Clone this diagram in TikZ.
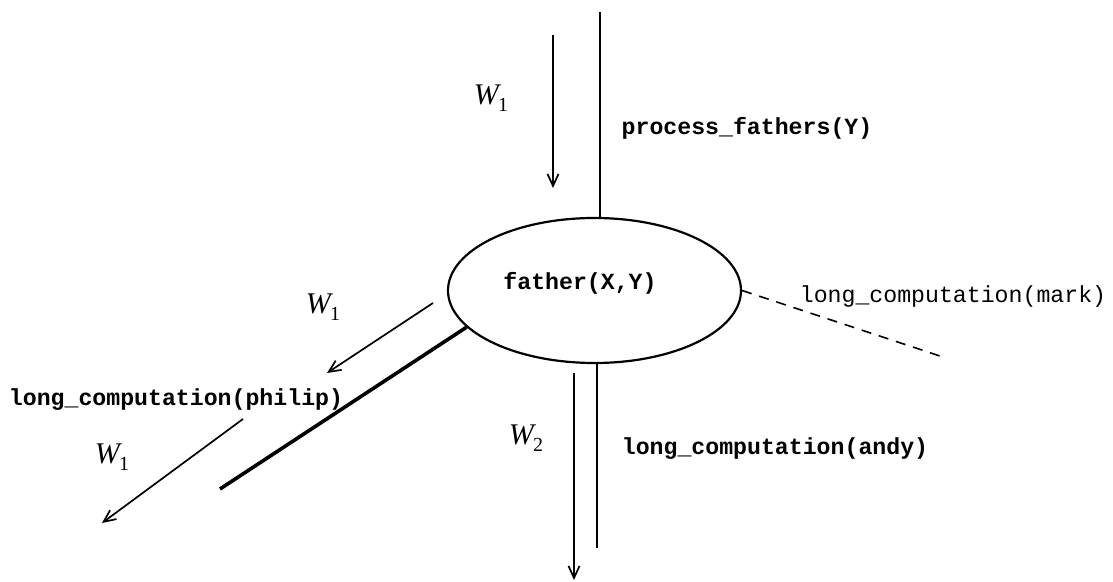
\documentclass[tikz,border=0pt]{standalone}
\usepackage{fontspec}
\setmonofont{Liberation Mono}
\newfontfamily\tms{Liberation Serif}
\usetikzlibrary{arrows.meta,shapes.geometric}
\newcommand{\Wlab}[1]{{\tms\itshape W\kern-0.3pt\raisebox{-0.25em}{\fontsize{10}{10}\selectfont\upshape #1}}}
\tikzset{
  code/.style={font=\fontsize{11.6}{14}\selectfont\ttfamily\bfseries, inner sep=0pt, anchor=center},
  codelight/.style={font=\fontsize{11.6}{14}\selectfont\ttfamily, inner sep=0pt, anchor=center},
  wlab/.style={font=\fontsize{15}{16}\selectfont, inner sep=0pt, anchor=center},
  goal/.style={draw, line width=1.1pt, ellipse, minimum width=146.5pt, minimum height=72.5pt, inner sep=0pt},
  branch/.style={line width=1.1pt},
  thickbranch/.style={line width=1.8pt},
  dashbranch/.style={line width=0.8pt, dash pattern=on 5pt off 4pt},
  flow/.style={line width=0.85pt, -{Straight Barb[length=6pt,width=5.5pt,line width=0.85pt]}}
}
\begin{document}
\begin{tikzpicture}[x=0.5pt,y=-0.5pt]
\useasboundingbox (0,0) rectangle (1113,582);
\node[goal] (fe) at (594.5,290.5) {};
\node[code] (ft) at (580,283) {father(X,Y)};
% labels
\node[code] (pf) at (747,128) {process\_fathers(Y)};
\node[codelight] (lm) at (953,297) {long\_computation(mark)};
\node[code] (lp) at (176,400) {long\_computation(philip)};
\node[code] (la) at (775,449) {long\_computation(andy)};
\node[wlab] (w1a) at (491,98) {\Wlab{1}};
\node[wlab] (w1b) at (323,307) {\Wlab{1}};
\node[wlab] (w1c) at (112,457) {\Wlab{1}};
\node[wlab] (w2) at (526,438) {\Wlab{2}};
% branch end points
\coordinate (ptop) at (600,12);
\coordinate (pbot) at (597,548);
\coordinate (pthick) at (220,489);
\coordinate (pdash) at (946,358);
\draw[branch] (ptop) -- (ptop |- fe.north);
\draw[branch] (fe.south -| pbot) -- (pbot);
\draw[thickbranch] (fe.196) -- (pthick);
\draw[dashbranch] (fe.east) -- (pdash);
% flow arrows
\coordinate (a1s) at (553,35);   \coordinate (a1e) at (553,188);
\coordinate (a2s) at (433,303);  \coordinate (a2e) at (327,373);
\coordinate (a3s) at (243,419);  \coordinate (a3e) at (102,523);
\coordinate (a4s) at (574,373);  \coordinate (a4e) at (574,580);
\draw[flow] (a1s) -- (a1e);
\draw[flow] (a2s) -- (a2e);
\draw[flow] (a3s) -- (a3e);
\draw[flow] (a4s) -- (a4e);
\end{tikzpicture}
\end{document}
